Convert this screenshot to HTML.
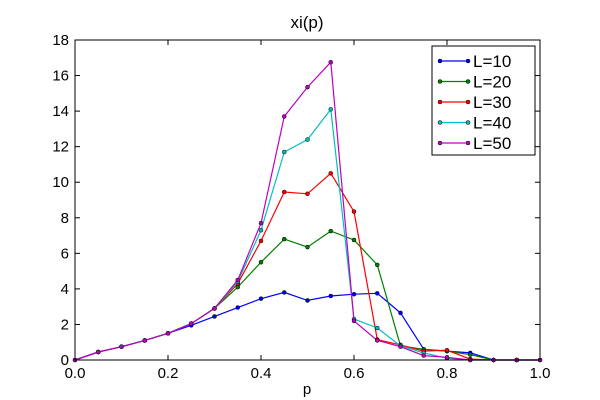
<!DOCTYPE html>
<html><head><meta charset="utf-8"><style>
html,body{margin:0;padding:0;background:#fff;}
svg{display:block;font-family:"Liberation Sans","DejaVu Sans",sans-serif;}
</style></head><body>
<svg id="s" width="600" height="400" xmlns="http://www.w3.org/2000/svg">
<rect width="600" height="400" fill="#fff"/>
<text x="307" y="28" font-size="17" text-anchor="middle">xi(p)</text>
<g id="ticks" font-size="15"></g>
<g id="series"></g>
<rect x="75" y="40" width="465" height="320" fill="none" stroke="#000" stroke-width="1"/>
<g id="legend"></g>
<text x="307" y="394" font-size="15" text-anchor="middle">p</text>
</svg>
<script>
var X=function(p){return 75+p*465}, Y=function(v){return 360-v*320/18};
var ns="http://www.w3.org/2000/svg";
function el(t,a,par,txt){var e=document.createElementNS(ns,t);for(var k in a)e.setAttribute(k,a[k]);if(txt!=null)e.textContent=txt;par.appendChild(e);return e;}
var tk=document.getElementById('ticks');
for(var i=0;i<=5;i++){var p=i*0.2,x=X(p);
 el('line',{x1:x,y1:360,x2:x,y2:355,stroke:'#000'},tk);el('line',{x1:x,y1:40,x2:x,y2:45,stroke:'#000'},tk);
 el('text',{x:x,y:378,'text-anchor':'middle'},tk,p.toFixed(1));}
for(var v=0;v<=18;v+=2){var y=Y(v);
 el('line',{x1:75,y1:y,x2:80,y2:y,stroke:'#000'},tk);el('line',{x1:540,y1:y,x2:535,y2:y,stroke:'#000'},tk);
 el('text',{x:69,y:y+5,'text-anchor':'end'},tk,String(v));}
var base=[0,0.45,0.75,1.1,1.5,2.05,2.9];
var D=[
['#0000ff','L=10',[0,0.45,0.75,1.1,1.5,1.95,2.45,2.95,3.45,3.8,3.35,3.6,3.7,3.75,2.65,0.6,0.5,0.4,0,0,0]],
['#007f00','L=20',base.concat([4.1,5.5,6.8,6.35,7.25,6.75,5.35,0.8,0.6,0.5,0.3,0,0,0])],
['#ff0000','L=30',base.concat([4.3,6.7,9.45,9.35,10.5,8.35,1.15,0.85,0.5,0.55,0.05,0,0,0])],
['#00bfbf','L=40',base.concat([4.4,7.3,11.7,12.4,14.1,2.3,1.8,0.8,0.4,0.1,0,0,0,0])],
['#bf00bf','L=50',base.concat([4.5,7.7,13.7,15.35,16.75,2.2,1.1,0.75,0.25,0.15,0,0,0,0])]];
var sg=document.getElementById('series');
D.forEach(function(d){var pts=d[2].map(function(v,i){return X(i*0.05).toFixed(1)+','+Y(v).toFixed(1)}).join(' ');
 el('polyline',{points:pts,fill:'none',stroke:d[0],'stroke-width':1.2},sg);
 d[2].forEach(function(v,i){el('circle',{cx:X(i*0.05),cy:Y(v),r:2,fill:d[0],stroke:'#000','stroke-width':0.5},sg);});});
var lg=document.getElementById('legend');
el('rect',{x:432,y:46,width:103,height:109,fill:'#fff',stroke:'#000'},lg);
D.forEach(function(d,i){var y=61+i*20.5;
 el('line',{x1:440,y1:y,x2:468,y2:y,stroke:d[0],'stroke-width':1.2},lg);
 el('circle',{cx:440,cy:y,r:2,fill:d[0],stroke:'#000','stroke-width':0.5},lg);
 el('circle',{cx:468,cy:y,r:2,fill:d[0],stroke:'#000','stroke-width':0.5},lg);
 el('text',{x:473,y:y+6,'font-size':17},lg,d[1]);});
</script>
</body></html>
